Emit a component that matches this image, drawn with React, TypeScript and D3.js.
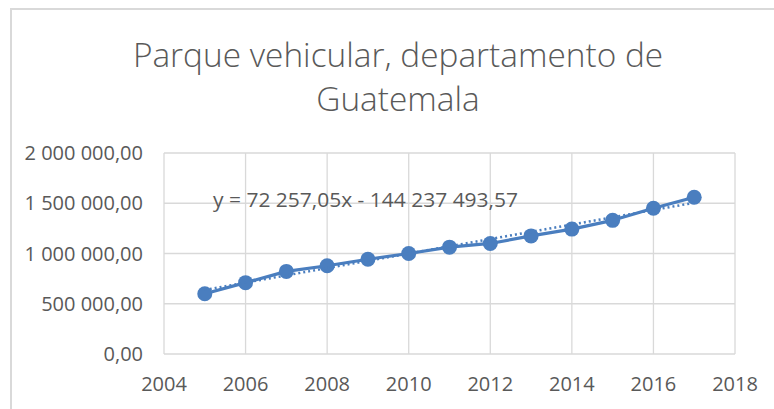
import React from "react";
import * as d3 from "d3";

const years = [2005, 2006, 2007, 2008, 2009, 2010, 2011, 2012, 2013, 2014, 2015, 2016, 2017];
const vehicles = [600000, 710000, 822000, 878000, 943000, 1000000, 1063000, 1100000, 1175000, 1243000, 1330000, 1450000, 1560000];
const trendSlope = 72257.05;
const trendIntercept = -144237493.57;
const trendLabel = "y = 72 257,05x - 144 237 493,57";
const xTicks = [2004, 2006, 2008, 2010, 2012, 2014, 2016, 2018];
const yTicks = [0, 500000, 1000000, 1500000, 2000000];
const titleLines = ["Parque vehicular, departamento de", "Guatemala"];

const W = 774;
const H = 409;
const FONT = "'Segoe UI', 'Open Sans', sans-serif";
const TEXT = "#595959";
const GRID = "#d9d9d9";
const BLUE = "#4a7ebf";

function fmtY(v: number): string {
  const s = d3.format(",.2f")(v);
  return s.replace(/,/g, " ").replace(".", ",");
}

export default function App() {
  const x = d3.scaleLinear().domain([2004, 2018]).range([164, 735]);
  const y = d3.scaleLinear().domain([0, 2000000]).range([354, 153]);
  const data = years.map((yr, i) => ({ yr, v: vehicles[i] }));
  const line = d3
    .line<{ yr: number; v: number }>()
    .x((d) => x(d.yr))
    .y((d) => y(d.v));
  const trend = d3
    .line<number>()
    .x((d) => x(d))
    .y((d) => y(trendSlope * d + trendIntercept));
  const trendYears = [years[0], years[years.length - 1]];

  return (
    <svg
      width={W}
      height={H}
      style={{ position: "absolute", left: 0, top: 0, background: "#fff" }}
      fontFamily={FONT}
    >
      <rect x={0} y={0} width={W} height={H} fill="#fff" />
      <rect x={11} y={9} width={W + 40} height={H + 40} fill="#fff" stroke={GRID} strokeWidth={2} />
      {titleLines.map((t, i) => (
        <text key={t} x={398} y={67 + i * 44} textAnchor="middle" fontSize={33.4} fontWeight={300} fill={TEXT}>
          {t}
        </text>
      ))}
      {yTicks.map((t) => (
        <line key={"gy" + t} x1={x(2004)} x2={x(2018)} y1={y(t)} y2={y(t)} stroke={GRID} strokeWidth={1.3} />
      ))}
      {xTicks.map((t) => (
        <line key={"gx" + t} x1={x(t)} x2={x(t)} y1={y(0)} y2={y(2000000)} stroke={GRID} strokeWidth={1.3} />
      ))}
      {yTicks.map((t) => (
        <text key={"ly" + t} x={143} y={y(t) + 7} textAnchor="end" fontSize={20} fill={TEXT}>
          {fmtY(t)}
        </text>
      ))}
      {xTicks.map((t) => (
        <text key={"lx" + t} x={x(t)} y={391} textAnchor="middle" fontSize={20} fill={TEXT}>
          {t}
        </text>
      ))}
      <path d={line(data) || ""} fill="none" stroke={BLUE} strokeWidth={3.2} strokeLinejoin="round" />
      {data.map((d) => (
        <circle key={d.yr} cx={x(d.yr)} cy={y(d.v)} r={7.5} fill={BLUE} />
      ))}
      <path
        d={trend(trendYears) || ""}
        fill="none"
        stroke={BLUE}
        strokeWidth={2.5}
        strokeDasharray="2 3"
      />
      <text x={213} y={207} fontSize={20} textLength={305} lengthAdjust="spacingAndGlyphs" fill={TEXT}>
        {trendLabel}
      </text>
    </svg>
  );
}
